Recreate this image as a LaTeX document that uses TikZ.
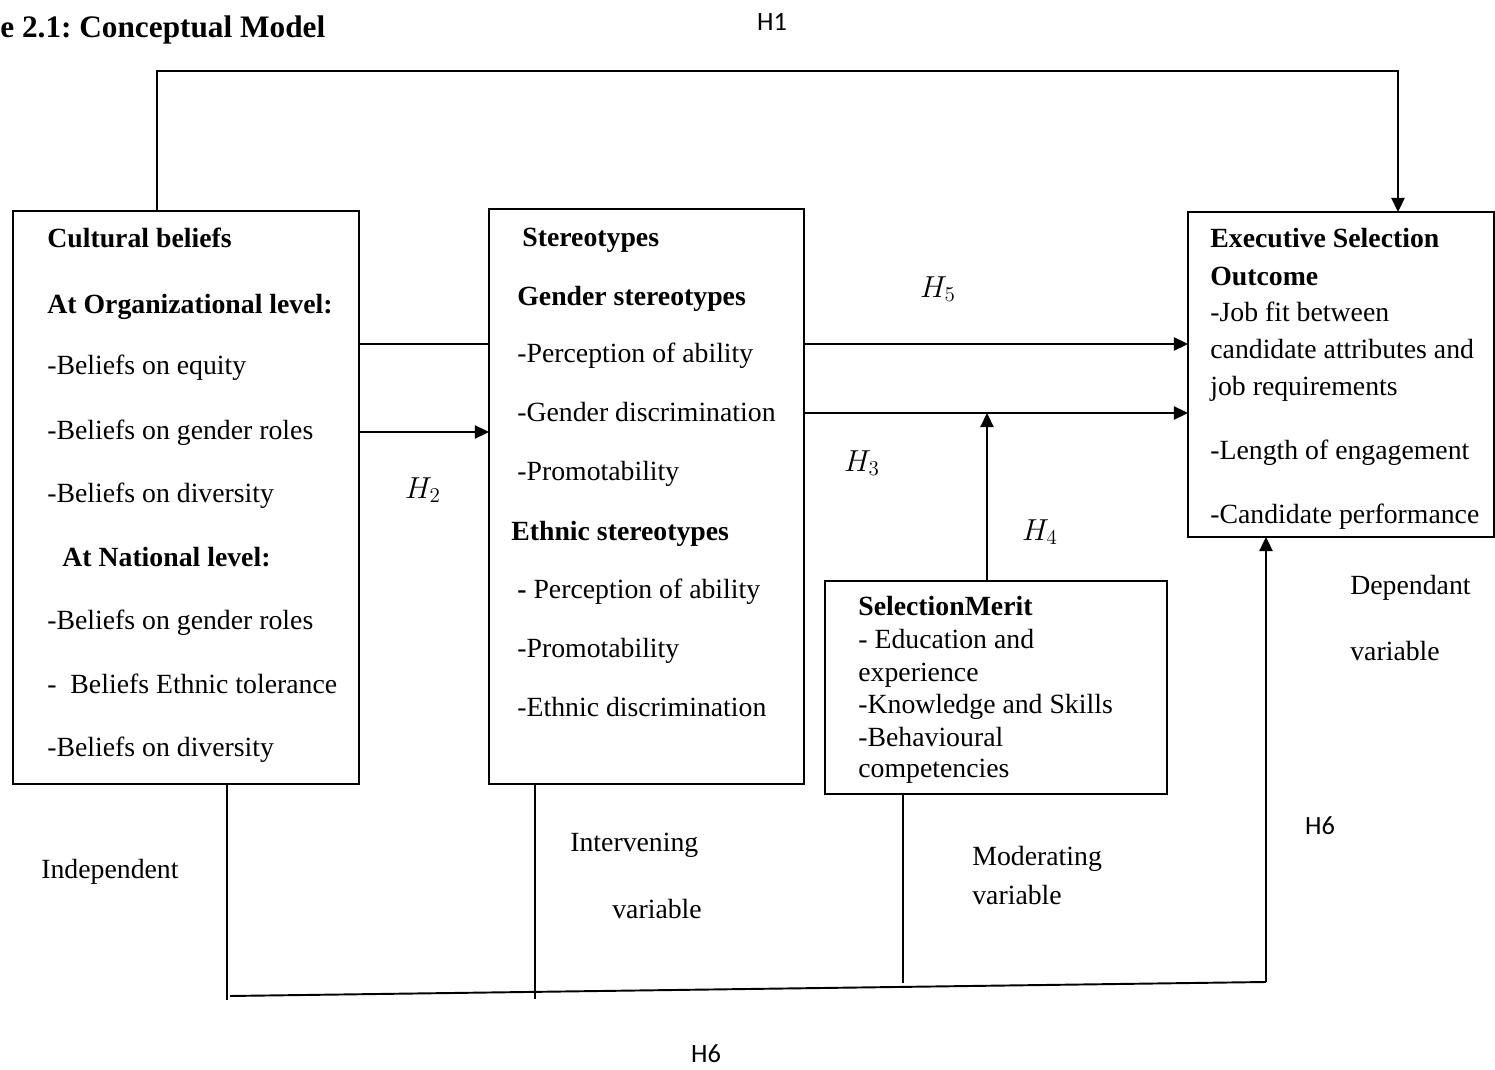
\documentclass[tikz,border=0pt]{standalone}
\usepackage{fontspec}
\setmainfont{Liberation Serif}
\newfontfamily\hfont{Carlito}
\usetikzlibrary{positioning,calc,arrows.meta}
\frenchspacing

\newcommand{\bodyfont}{\fontsize{15.8}{19}\selectfont}

\tikzset{
  box/.style={draw, line width=0.9pt, inner sep=0pt, outer sep=0pt},
  txt/.style={anchor=base west, inner sep=0pt, font=\bodyfont},
  hd/.style={txt, font=\bodyfont\bfseries},
  hyp/.style={inner sep=0pt, font=\fontsize{17}{20}\selectfont},
  hlab/.style={inner sep=0pt, font=\hfont\fontsize{15}{18}\selectfont},
  arr/.style={line width=0.9pt, -{Triangle[length=8pt,width=7.5pt]}},
  ln/.style={line width=0.9pt}
}

\begin{document}
\begin{tikzpicture}[x=0.02cm,y=-0.02cm]
    \useasboundingbox (0,0) rectangle (1495,1070);

    % title
    \node[anchor=base west, inner sep=0pt, font=\fontsize{17.8}{21}\selectfont\bfseries] (title) at (0,38) {e 2.1: Conceptual Model};

    % boxes
    \node[box, minimum width=6.92cm, minimum height=11.46cm] (cult) at (186,497.5) {};
    \node[box, minimum width=6.30cm, minimum height=11.50cm] (stereo) at (646.5,496.5) {};
    \node[box, minimum width=6.12cm, minimum height=6.50cm] (exec) at (1341,374.5) {};
    \node[box, minimum width=6.84cm, minimum height=4.26cm] (merit) at (996,687.5) {};

    % Cultural beliefs
    \node[hd]  (c1) at (47,248) {Cultural beliefs};
    \node[hd]  (c2) at (47,314) {At Organizational level:};
    \node[txt] (c3) at (47,375) {-Beliefs on equity};
    \node[txt] (c4) at (47,440) {-Beliefs on gender roles};
    \node[txt] (c5) at (47,503) {-Beliefs on diversity};
    \node[hd]  (c6) at (62,567) {At National level:};
    \node[txt] (c7) at (47,630) {-Beliefs on gender roles};
    \node[txt] (c8) at (47,694) {-\ \ Beliefs Ethnic tolerance};
    \node[txt] (c9) at (47,757) {-Beliefs on diversity};

    % Stereotypes
    \node[hd]  (s1) at (522,247) {Stereotypes};
    \node[hd]  (s2) at (517,306) {Gender stereotypes};
    \node[txt] (s3) at (517,363) {-Perception of ability};
    \node[txt] (s4) at (517,422) {-Gender discrimination};
    \node[txt] (s5) at (517,481) {-Promotability};
    \node[hd]  (s6) at (511,541) {Ethnic stereotypes};
    \node[txt] (s7) at (517,599) {\textbf{-} Perception of ability};
    \node[txt] (s8) at (517,658) {-Promotability};
    \node[txt] (s9) at (517,717) {-Ethnic discrimination};

    % Executive Selection Outcome
    \node[hd]  (e1) at (1210,248) {Executive Selection};
    \node[hd]  (e2) at (1210,286) {Outcome};
    \node[txt] (e3) at (1210,322) {-Job fit between};
    \node[txt] (e4) at (1210,359) {candidate attributes and};
    \node[txt] (e5) at (1210,396) {job requirements};
    \node[txt] (e6) at (1210,460) {-Length of engagement};
    \node[txt] (e7) at (1210,524) {-Candidate performance};

    % Selection merit
    \node[hd]  (m1) at (858,616) {SelectionMerit};
    \node[txt] (m2) at (858,649) {- Education and};
    \node[txt] (m3) at (858,682) {experience};
    \node[txt] (m4) at (858,714) {-Knowledge and Skills};
    \node[txt] (m5) at (858,747) {-Behavioural};
    \node[txt] (m6) at (858,778) {competencies};

    % variable labels
    \node[txt] (indep) at (41,879) {Independent};
    \node[txt] (interv1) at (570,851) {Intervening};
    \node[txt] (interv2) at (612,918) {variable};
    \node[txt] (moder1) at (972,866) {Moderating};
    \node[txt] (moder2) at (972,905) {variable};
    \node[txt] (dep1) at (1350,595) {Dependant};
    \node[txt] (dep2) at (1350,661) {variable};

    % hypotheses
    \node[hlab] (h1) at (772,22) {H1};
    \node[hyp] (h2) at (423,490) {$H_2$};
    \node[hyp] (h3) at (862,463) {$H_3$};
    \node[hyp] (h4) at (1040,532) {$H_4$};
    \node[hyp] (h5) at (938,289) {$H_5$};
    \node[hlab] (h6a) at (1320,826) {H6};
    \node[hlab] (h6b) at (706,1054) {H6};

    % connectors
    \coordinate (t1) at (157,71);
    \coordinate (t2) at (1398,71);
    \draw[arr] (cult.north -| t1) -- (t1) -- (t2) -- (exec.north -| t2);

    \draw[ln]  (cult.east |- 0,344) -- (stereo.west |- 0,344);
    \draw[arr] (cult.east |- 0,432) -- (stereo.west |- 0,432);
    \draw[arr] (stereo.east |- 0,344) -- (exec.west |- 0,344);
    \draw[arr] (stereo.east |- 0,413) -- (exec.west |- 0,413);
    \draw[arr] (merit.north -| 987,0) -- (987,413);

    % bottom links
    \coordinate (b1) at (227,1000);
    \coordinate (b2) at (535,999);
    \coordinate (b3) at (903,983);
    \coordinate (b4) at (1266,982);
    \draw[line width=0.6pt] (cult.south -| b1) -- (b1);
    \draw[line width=0.6pt] (stereo.south -| b2) -- (b2);
    \draw[line width=0.6pt] (merit.south -| b3) -- (b3);
    \draw[line width=1.1pt] (230,996) -- (b4);
    \draw[arr] (b4) -- (exec.south -| b4);
\end{tikzpicture}
\end{document}
